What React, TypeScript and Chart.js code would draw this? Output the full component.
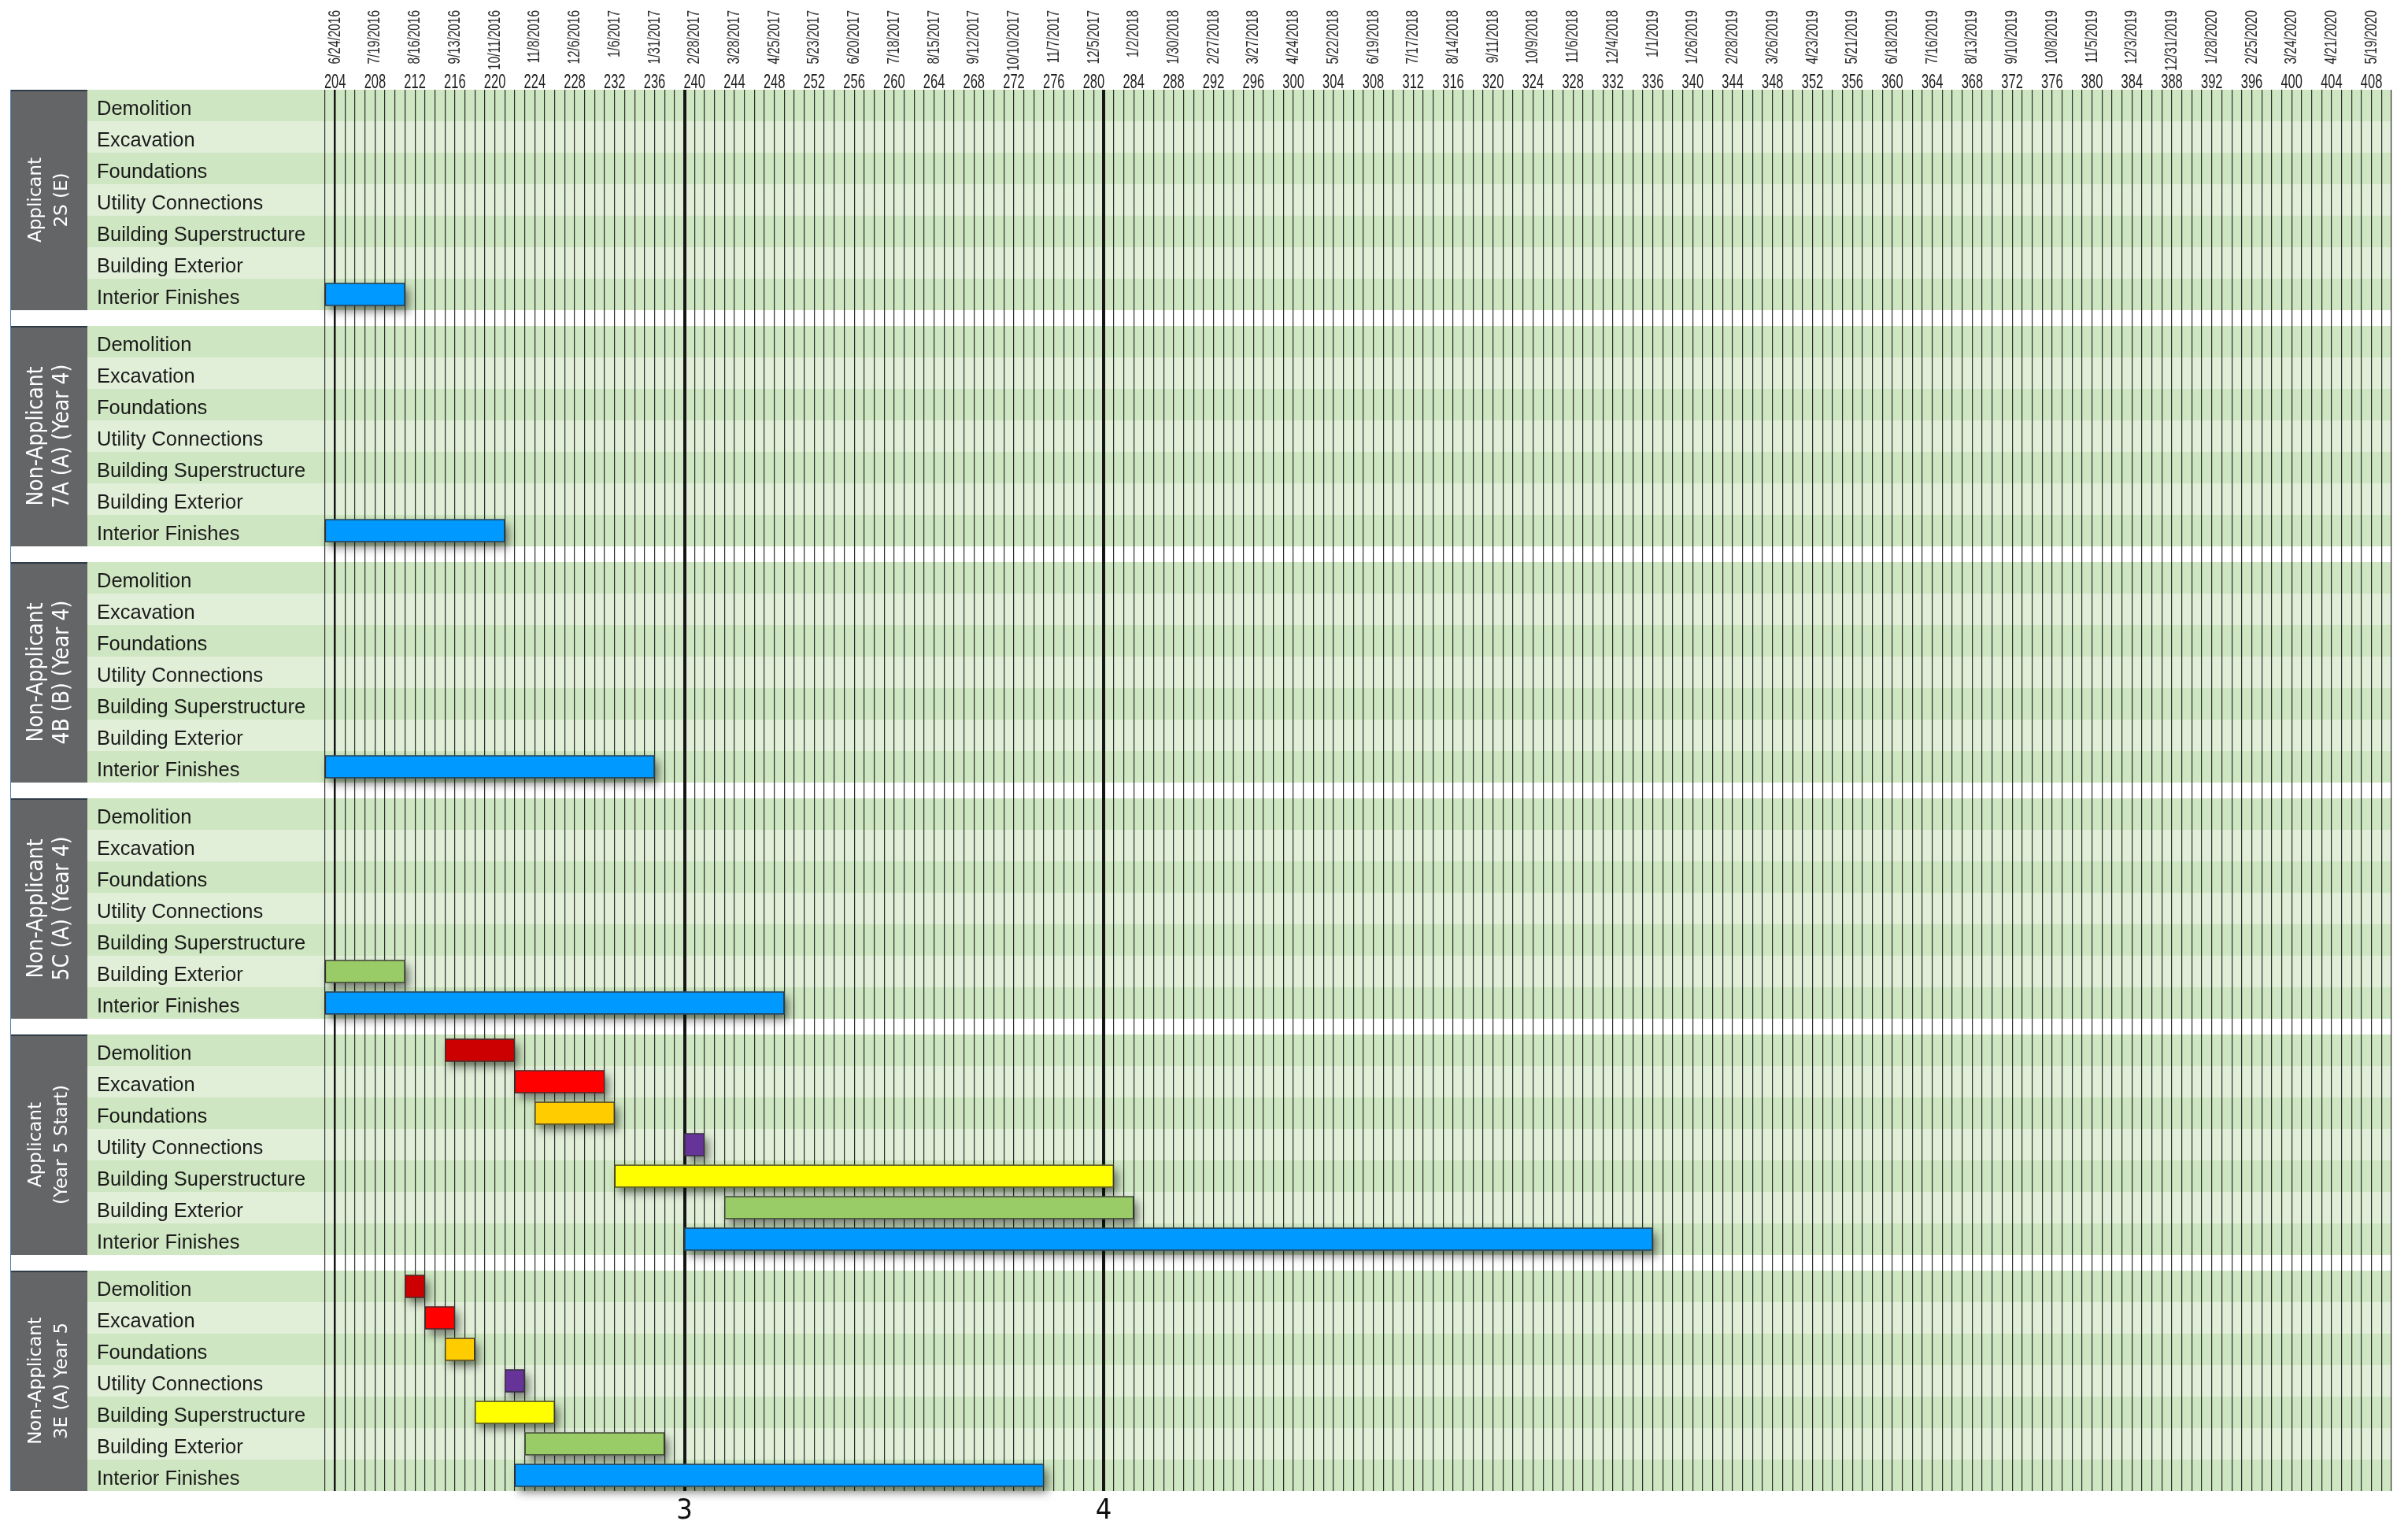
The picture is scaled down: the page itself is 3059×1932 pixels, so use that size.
import React, { useEffect, useRef } from 'react';
import { Chart, registerables } from 'chart.js';

Chart.register(...registerables);

// ---------------- data ----------------
const tasks = [
  'Demolition',
  'Excavation',
  'Foundations',
  'Utility Connections',
  'Building Superstructure',
  'Building Exterior',
  'Interior Finishes',
];

const groupLine1 = ['Applicant', 'Non-Applicant', 'Non-Applicant', 'Non-Applicant', 'Applicant', 'Non-Applicant'];
const groupLine2 = ['2S (E)', '7A (A) (Year 4)', '4B (B) (Year 4)', '5C (A) (Year 4)', '(Year 5 Start)', '3E (A) Year 5'];

const weekLabels = [
  204, 208, 212, 216, 220, 224, 228, 232, 236, 240, 244, 248, 252,
  256, 260, 264, 268, 272, 276, 280, 284, 288, 292, 296, 300, 304,
  308, 312, 316, 320, 324, 328, 332, 336, 340, 344, 348, 352, 356,
  360, 364, 368, 372, 376, 380, 384, 388, 392, 396, 400, 404, 408,
];

const weekDates = [
  '6/24/2016', '7/19/2016', '8/16/2016', '9/13/2016', '10/11/2016', '11/8/2016', '12/6/2016',
  '1/6/2017', '1/31/2017', '2/28/2017', '3/28/2017', '4/25/2017', '5/23/2017', '6/20/2017',
  '7/18/2017', '8/15/2017', '9/12/2017', '10/10/2017', '11/7/2017', '12/5/2017',
  '1/2/2018', '1/30/2018', '2/27/2018', '3/27/2018', '4/24/2018', '5/22/2018', '6/19/2018',
  '7/17/2018', '8/14/2018', '9/11/2018', '10/9/2018', '11/6/2018', '12/4/2018',
  '1/1/2019', '1/26/2019', '2/28/2019', '3/26/2019', '4/23/2019', '5/21/2019', '6/18/2019',
  '7/16/2019', '8/13/2019', '9/10/2019', '10/8/2019', '11/5/2019', '12/3/2019', '12/31/2019',
  '1/28/2020', '2/25/2020', '3/24/2020', '4/21/2020', '5/19/2020',
];

const phaseWeeks = [239, 281];
const phaseLabels = ['3', '4'];
const startWeek = 204;
const axisMin = 203;
const axisMax = 410;

// one entry per bar
const barGroup = [0, 1, 2, 3, 3, 4, 4, 4, 4, 4, 4, 4, 5, 5, 5, 5, 5, 5, 5];
const barTask = [6, 6, 6, 5, 6, 0, 1, 2, 3, 4, 5, 6, 0, 1, 2, 3, 4, 5, 6];
const barStart = [203, 203, 203, 203, 203, 215, 222, 224, 239, 232, 243, 239, 211, 213, 215, 221, 218, 223, 222];
const barEnd = [211, 221, 236, 211, 249, 222, 231, 232, 241, 282, 284, 336, 213, 216, 218, 223, 226, 237, 275];

// ---------------- style ----------------
const taskColors = ['#CC0000', '#FF0000', '#FFCC00', '#663399', '#FFFF00', '#99CC66', '#0099FF'];
const stripeDark = '#CEE6C1';
const stripeLight = '#E1EFD9';
const boxColor = '#646567';
const sansFont = "'Liberation Sans', Arial, sans-serif";
const condFont = "'DejaVu Sans Condensed', 'Liberation Sans Narrow', sans-serif";
const wideFont = "'DejaVu Sans', Verdana, sans-serif";
const condensedGroup = [false, true, true, true, false, false];

const ROWS = 7;
const GAP = 0.5;
const rowPos = (g: number, r: number) => g * (ROWS + GAP) + r + 0.5;
const yMax = groupLine1.length * ROWS + (groupLine1.length - 1) * GAP;
const rowTicks: number[] = [];
groupLine1.forEach((_, g) => tasks.forEach((__, r) => rowTicks.push(rowPos(g, r))));

const BOX_LEFT = 14;
const BOX_RIGHT = 111;

const bgPlugin = {
  id: 'ganttBackground',
  beforeDraw(chart: any) {
    const { ctx, chartArea, scales } = chart;
    const y = scales.y;
    ctx.save();
    groupLine1.forEach((l1: string, g: number) => {
      const base = g * (ROWS + GAP);
      for (let r = 0; r < ROWS; r++) {
        const t = y.getPixelForValue(base + r);
        const b = y.getPixelForValue(base + r + 1);
        ctx.fillStyle = r % 2 === 0 ? stripeDark : stripeLight;
        ctx.fillRect(BOX_RIGHT, t, chartArea.right - BOX_RIGHT, b - t);
      }
      const top = y.getPixelForValue(base);
      const bottom = y.getPixelForValue(base + ROWS);
      ctx.fillStyle = boxColor;
      ctx.fillRect(BOX_LEFT, top, BOX_RIGHT - BOX_LEFT, bottom - top);
      ctx.fillStyle = '#2f3b47';
      ctx.fillRect(BOX_LEFT, top, BOX_RIGHT - BOX_LEFT, 2);

      const cx = (BOX_LEFT + BOX_RIGHT) / 2;
      const cy = (top + bottom) / 2;
      ctx.save();
      ctx.translate(cx, cy);
      ctx.rotate(-Math.PI / 2);
      ctx.fillStyle = '#ffffff';
      ctx.textAlign = 'center';
      ctx.textBaseline = 'middle';
      ctx.font = condensedGroup[g] ? `28px ${condFont}` : `23px ${wideFont}`;
      ctx.fillText(l1, 0, -16);
      ctx.fillText(groupLine2[g], 0, 17);
      ctx.restore();
    });
    ctx.fillStyle = '#4a7fb5';
    ctx.fillRect(BOX_LEFT - 1, y.getPixelForValue(0), 1, y.getPixelForValue(yMax) - y.getPixelForValue(0));
    ctx.restore();
  },
};

const shadowPlugin = {
  id: 'barShadow',
  beforeDatasetsDraw(chart: any) {
    const ctx = chart.ctx;
    ctx.save();
    ctx.shadowColor = 'rgba(0,0,0,0.5)';
    ctx.shadowBlur = 12;
    ctx.shadowOffsetX = 5;
    ctx.shadowOffsetY = 7;
    chart.data.datasets.forEach((ds: any, i: number) => {
      const meta = chart.getDatasetMeta(i);
      meta.data.forEach((el: any) => {
        const { x, y, base, height } = el.getProps(['x', 'y', 'base', 'height'], true);
        ctx.fillStyle = ds.backgroundColor;
        const left = Math.min(x, base);
        ctx.fillRect(left, y - height / 2, Math.abs(x - base), height);
      });
    });
    ctx.restore();
  },
};

// week numbers and dates along the top, placed by the x scale (condensed by scaling)
const topLabelPlugin = {
  id: 'topLabels',
  afterDraw(chart: any) {
    const { ctx, chartArea } = chart;
    const x = chart.scales.x;
    ctx.save();
    ctx.fillStyle = '#222222';
    ctx.font = `25px ${sansFont}`;
    ctx.textAlign = 'center';
    ctx.textBaseline = 'alphabetic';
    weekLabels.forEach((w) => {
      const px = x.getPixelForValue(w);
      ctx.save();
      ctx.translate(px, chartArea.top - 2);
      ctx.scale(0.66, 1);
      ctx.fillText(String(w), 0, 0);
      ctx.restore();
    });
    ctx.fillStyle = '#2e2e2e';
    ctx.font = `22px ${sansFont}`;
    ctx.textAlign = 'right';
    ctx.textBaseline = 'middle';
    weekLabels.forEach((w, i) => {
      const px = x.getPixelForValue(w);
      ctx.save();
      ctx.translate(px, 13);
      ctx.rotate(-Math.PI / 2);
      ctx.scale(0.7, 1);
      ctx.fillText(weekDates[i], 0, 0);
      ctx.restore();
    });
    ctx.restore();
  },
};

export default function App() {
  const ref = useRef<HTMLCanvasElement | null>(null);

  useEffect(() => {
    if (!ref.current) return;
    const datasets = tasks.map((t, ti) => ({
      label: t,
      data: barTask
        .map((tk, i) => ({ tk, i }))
        .filter((o) => o.tk === ti)
        .map(({ i }) => ({ x: [barStart[i], barEnd[i]], y: rowPos(barGroup[i], barTask[i]) })),
      backgroundColor: taskColors[ti],
      borderColor: '#333333',
      borderWidth: 1.5,
      borderSkipped: false,
      barThickness: 29,
    }));

    const chart = new Chart(ref.current, {
      type: 'bar',
      data: { datasets } as any,
      options: {
        indexAxis: 'y',
        animation: false,
        responsive: true,
        maintainAspectRatio: false,
        devicePixelRatio: 1,
        layout: { padding: { left: 123, right: 21, top: 0, bottom: 0 } },
        plugins: { legend: { display: false }, tooltip: { enabled: false } },
        scales: {
          x: {
            type: 'linear',
            position: 'top',
            min: axisMin,
            max: axisMax,
            offset: false,
            afterFit: (s: any) => {
              s.height = 114;
            },
            ticks: {
              display: false,
              stepSize: 1,
              autoSkip: false,
            },
            grid: {
              drawTicks: false,
              offset: false,
              color: (c: any) =>
                c.tick && (phaseWeeks.includes(c.tick.value) || c.tick.value === startWeek)
                  ? '#161616'
                  : 'rgba(20,20,20,0.88)',
              lineWidth: (c: any) =>
                c.tick && phaseWeeks.includes(c.tick.value) ? 4 : c.tick && c.tick.value === startWeek ? 2.5 : 1.2,
            },
            border: { display: false },
          },
          x2: {
            type: 'linear',
            position: 'bottom',
            min: axisMin,
            max: axisMax,
            offset: false,
            afterFit: (s: any) => {
              s.height = 38;
            },
            afterBuildTicks: (s: any) => {
              s.ticks = phaseWeeks.map((v) => ({ value: v }));
            },
            ticks: {
              autoSkip: false,
              maxRotation: 0,
              padding: 0,
              color: '#111111',
              font: { family: condFont, size: 36, lineHeight: 1 },
              callback: (_v: any, i: number) => phaseLabels[i],
            },
            grid: { display: false },
            border: { display: false },
          },
          y: {
            type: 'linear',
            reverse: true,
            stacked: true,
            offset: false,
            min: 0,
            max: yMax,
            afterFit: (s: any) => {
              s.width = 290;
            },
            afterBuildTicks: (s: any) => {
              s.ticks = rowTicks.map((v) => ({ value: v }));
            },
            ticks: {
              autoSkip: false,
              crossAlign: 'far',
              padding: 0,
              labelOffset: 5,
              color: '#1a1a1a',
              font: { family: sansFont, size: 25.5 },
              callback: (_v: any, i: number) => tasks[i % ROWS],
            },
            grid: { display: false, offset: false },
            border: { display: false },
          },
        },
      } as any,
      plugins: [bgPlugin, shadowPlugin, topLabelPlugin],
    });
    return () => chart.destroy();
  }, []);

  return (
    <div style={{ position: 'fixed', left: 0, top: 0, width: 3059, height: 1932, background: '#ffffff' }}>
      <canvas ref={ref} />
    </div>
  );
}
